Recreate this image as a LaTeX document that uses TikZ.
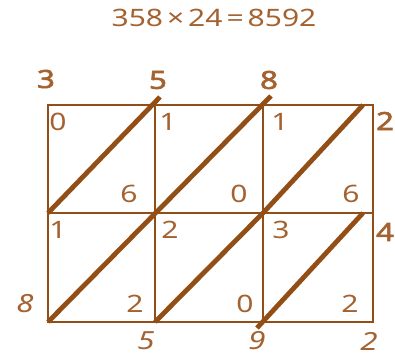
\documentclass[tikz,border=0pt]{standalone}
\usepackage{fontspec}
\setmainfont{Noto Sans}[FakeStretch=1.25,AutoFakeBold=2.5]
\definecolor{latline}{RGB}{146,78,20}
\definecolor{lattext}{RGB}{164,98,48}

\begin{document}
\begin{tikzpicture}[x=1pt,y=-1pt,
  every node/.style={text=lattext,inner sep=0pt,font=\fontsize{24}{24}\selectfont},
  grid/.style={draw=latline,line width=2.7pt},
  diag/.style={draw=latline,line width=4.8pt},
  factor/.style={font=\fontsize{25}{25}\selectfont\bfseries},
  result/.style={font=\fontsize{25}{25}\selectfont\itshape}]
  \useasboundingbox (0,0) rectangle (395,356);
  % corners of the lattice
  \coordinate (t0) at (48,105);  \coordinate (t1) at (155,105);
  \coordinate (t2) at (263,105); \coordinate (t3) at (373,105);
  \coordinate (m0) at (48,213);  \coordinate (m1) at (155,213);
  \coordinate (m2) at (263,213); \coordinate (m3) at (373,213);
  \coordinate (b0) at (48,322);  \coordinate (b1) at (155,322);
  \coordinate (b2) at (263,322); \coordinate (b3) at (373,322);
  % ends of the diagonals
  \coordinate (tr) at (363,105); \coordinate (mr) at (363,213);
  \coordinate (e1) at (160,97);  \coordinate (e2) at (271,96);
  \coordinate (e3) at (257,328);

  \node (title) at (214,18) {358\,×\,24\,=\,8592};

  \draw[grid] (t0) rectangle (b3);
  \draw[grid] (t1) -- (b1);
  \draw[grid] (t2) -- (b2);
  \draw[grid] (m0) -- (m3);
  \draw[diag] (m0) -- (e1);
  \draw[diag] (b0) -- (e2);
  \draw[diag] (b1) -- (m2) -- (tr);
  \draw[diag] (e3) -- (mr);

  % factors
  \node[factor] (f3) at (46,79) {3};
  \node[factor] (f5) at (158,80) {5};
  \node[factor] (f8) at (269,80) {8};
  \node[factor] (g2) at (385,121) {2};
  \node[factor] (g4) at (385,232) {4};
  % partial products
  \node (p11a) at (58,122) {0};  \node (p11b) at (129,194) {6};
  \node (p12a) at (168,122) {1}; \node (p12b) at (239,194) {0};
  \node (p13a) at (280,122) {1}; \node (p13b) at (351,194) {6};
  \node (p21a) at (58,230) {1};  \node (p21b) at (135,304) {2};
  \node (p22a) at (170,230) {2}; \node (p22b) at (245,304) {0};
  \node (p23a) at (281,230) {3}; \node (p23b) at (350,304) {2};
  % result
  \node[result] (r8) at (25,304) {8};
  \node[result] (r5) at (146,341) {5};
  \node[result] (r9) at (257,341) {9};
  \node[result] (r2) at (369,341) {2};
\end{tikzpicture}
\end{document}
